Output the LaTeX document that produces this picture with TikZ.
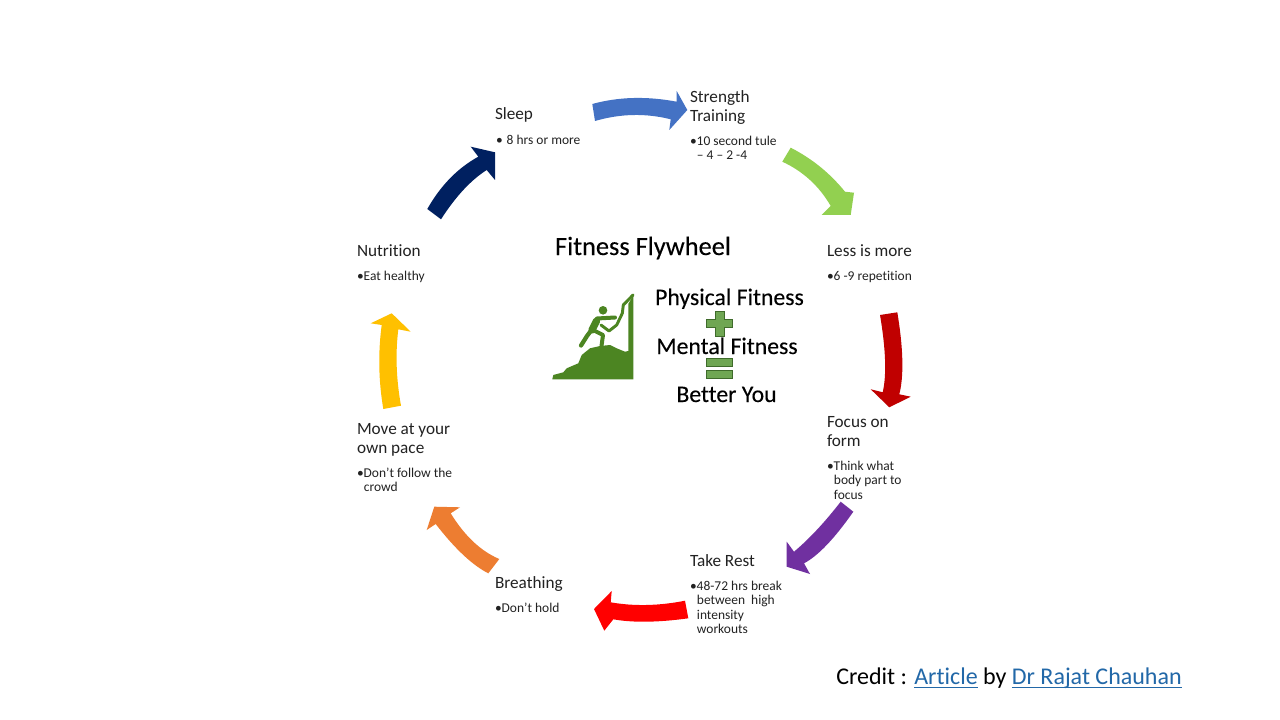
\documentclass[tikz,border=0pt]{standalone}
\usepackage{fontspec}
\setmainfont{Carlito}[Ligatures=NoCommon]
\newfontfamily\bigfont{Carlito}[Ligatures=NoCommon,FakeBold=0.2]
\definecolor{cblue}{HTML}{4472C4}
\definecolor{cgreen}{HTML}{92D050}
\definecolor{cdred}{HTML}{C00000}
\definecolor{cpurple}{HTML}{7030A0}
\definecolor{cred}{HTML}{FF0000}
\definecolor{corange}{HTML}{ED7D31}
\definecolor{cyellow}{HTML}{FFC000}
\definecolor{cnavy}{HTML}{002060}
\definecolor{clink}{HTML}{2268A8}
\definecolor{cicon}{HTML}{4C8522}
\definecolor{csym}{HTML}{6FA653}
\definecolor{csymline}{HTML}{3F6B2B}
\definecolor{ctext}{HTML}{222222}
\tikzset{
  block/.style={anchor=north west,inner sep=0pt,outer sep=0pt,yshift=10pt,align=left,text=ctext,
    execute at begin node={\rule{0pt}{10pt}}},
  headtxt/.style={block,font=\fontsize{12.9}{14.25}\selectfont},
  detailtxt/.style={block,font=\fontsize{10.1}{10.9}\selectfont},
  bigtxt/.style={anchor=base,inner sep=0pt,text=black,font=\bigfont\fontsize{17.8}{20}\selectfont},
  symbol/.style={fill=csym,draw=csymline,line width=0.6pt},
  climber/.style={draw=cicon,line cap=round,line join=round}
}
\newcommand{\ind}{\hspace*{5.2pt}}
\newcommand{\linkul}[1]{\textcolor{clink}{\setbox0=\hbox{#1}\rlap{\rule[-2.9pt]{\wd0}{1pt}}\box0}}
\begin{document}
\begin{tikzpicture}[x=0.75pt,y=-0.75pt]
\useasboundingbox (0,0) rectangle (1280,720);
\fill[white] (0,0) rectangle (1280,720);

% curved arrows
\fill[cblue] (592.3,104) .. controls (618.4,96.8) and (646.6,96) .. (676.7,101.7) -- (676.7,91) -- (687.3,110) -- (669.3,130) -- (670.7,119.3) .. controls (645.7,113) and (620.4,113.6) .. (595,121) -- cycle;
\fill[cgreen] (790.7,147.7) .. controls (811.7,158.4) and (829.8,173) .. (845,191.7) -- (854,192.7) -- (850.7,215) -- (821.7,215) -- (830.7,206) .. controls (819.2,186.1) and (803.1,171.3) .. (782.3,161.7) -- cycle;
\fill[cdred] (897.3,312.3) .. controls (903.3,348.6) and (904,375.9) .. (899.3,394.3) -- (910.7,396.7) -- (889.3,407.3) -- (870.7,389.3) -- (882.7,392.3) .. controls (886.7,375) and (885.8,349.2) .. (880,315) -- cycle;
\fill[cpurple] (853.3,511.7) .. controls (834.3,538.9) and (817.8,556.1) .. (804,563.3) -- (810,574) -- (786.7,566.7) -- (786.7,541.7) -- (794,551.7) .. controls (808.7,539.4) and (824.3,522.8) .. (840.7,501.7) -- cycle;
\fill[cred] (688.3,618.3) .. controls (657.8,622.5) and (632.8,622.8) .. (613.3,619.3) -- (604.3,630.7) -- (594,609) -- (611.7,591) -- (610.7,602.3) .. controls (633.9,606.4) and (658.7,605.9) .. (685,600.7) -- cycle;
\fill[corange] (488.3,573.3) .. controls (472.5,565.3) and (455,548.9) .. (435.7,524) -- (426.7,530) -- (434.3,506.7) -- (460,507.3) -- (450.7,513.3) .. controls (464.6,535.9) and (480.8,551.2) .. (499.3,559) -- cycle;
\fill[cyellow] (383.3,409) .. controls (378.5,380.6) and (378,352.6) .. (381.7,325) -- (370.7,323.3) -- (391.7,313.3) -- (410.7,331.7) -- (398.3,329.3) .. controls (395.3,353.7) and (396.2,379.2) .. (401,405.7) -- cycle;
\fill[cnavy] (427.3,209) .. controls (440.6,185.5) and (457.6,168.1) .. (478.3,156.7) -- (470.7,146.7) -- (495,152.3) -- (495,180) -- (486.7,170) .. controls (470.7,180.2) and (455.5,196.7) .. (441,219.3) -- cycle;

% step labels
\node[headtxt] (sleephead) at (495,120) {Sleep};
\node[detailtxt] (sleepdetail) at (496,145) {•\hspace{3pt}8 hrs or more};
\node[headtxt] (stronghead) at (690,104) {Strength\\Training};
\node[detailtxt] (strongdetail) at (690,149) {•10 second tule\\\ind – 4 – 2 -4};
\node[headtxt] (lesshead) at (827,256) {Less is more};
\node[detailtxt] (lessdetail) at (827,280) {•6 -9 repetition};
\node[headtxt] (formhead) at (827,430) {Focus on\\form};
\node[detailtxt] (formdetail) at (827,474) {•Think what\\\ind body part to\\\ind focus};
\node[headtxt] (resthead) at (690,566) {Take Rest};
\node[detailtxt] (restdetail) at (690,594) {•48-72 hrs break\\\ind between\ \ high\\\ind intensity\\\ind workouts};
\node[headtxt] (breathhead) at (495,588) {Breathing};
\node[detailtxt] (breathdetail) at (495,612) {•Don’t hold};
\node[headtxt] (movehead) at (357,437) {Move at your\\own pace};
\node[detailtxt] (movedetail) at (357,481) {•Don’t follow the\\\ind crowd};
\node[headtxt] (nutrihead) at (357,256) {Nutrition};
\node[detailtxt] (nutridetail) at (357,280) {•Eat healthy};

% centre
\node[bigtxt,font=\bigfont\fontsize{19.8}{22}\selectfont] (title) at (643,255) {Fitness Flywheel};
\node[bigtxt] (physical) at (729.5,305) {Physical Fitness};
\node[bigtxt] (mental) at (727,354) {Mental Fitness};
\node[bigtxt] (better) at (726.5,402) {Better You};

\draw[symbol] (715,311) -- (724,311) -- (724,319) -- (732.7,319) -- (732.7,327.3) -- (724,327.3) -- (724,336) -- (715,336) -- (715,327.3) -- (706.7,327.3) -- (706.7,319) -- (715,319) -- cycle;
\draw[symbol] (706.7,358.7) rectangle (732.3,366.7);
\draw[symbol] (706.7,370) rectangle (732.3,378.7);

% climber icon
\fill[cicon] (552.3,379.3) -- (553.3,375) -- (563.3,372.3) -- (566.7,368.3) -- (578.3,363.3) -- (581.7,355) -- (590,348.3) -- (600,346) -- (610,345) -- (616.7,348.3) -- (625,351.7) -- (628.3,351) -- (628.3,304) -- (633.3,295) -- (633.3,379.3) -- cycle;
\fill[cicon] (603,310.3) circle (4.3);
\draw[climber,line width=5.5pt] (596.5,321) -- (592,330);
\draw[climber,line width=3pt] (597,318.5) -- (615,317.5);
\draw[climber,line width=3.2pt] (591.5,330) -- (587,336) -- (581,345.5);
\draw[climber,line width=3pt] (593,330) -- (603,335) -- (601.5,346);
\draw[climber,line width=2.2pt] (633,295) -- (623.3,305) -- (622.3,313.3) -- (616.7,325) -- (609,331) -- (601,325);

% credit
\node[anchor=base west,inner sep=0pt,text=black,font=\fontsize{18}{20}\selectfont] (credit) at (836,684) {Credit : \linkul{Article} by \linkul{Dr Rajat Chauhan}};
\end{tikzpicture}
\end{document}
